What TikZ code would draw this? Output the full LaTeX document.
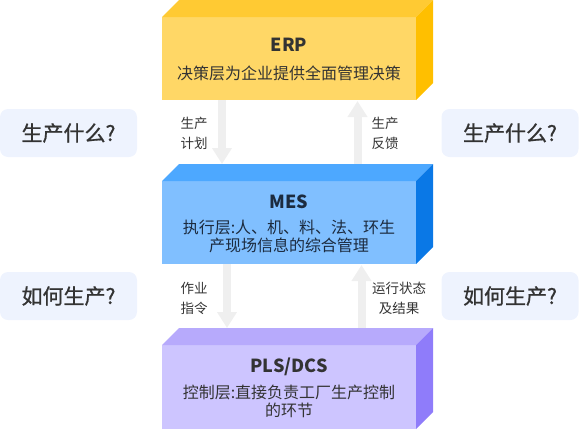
\documentclass[tikz,border=0pt]{standalone}
\usepackage{fontspec}
\setmainfont{Noto Sans CJK SC}
\newfontface\qfont{Noto Sans CJK SC}[FakeBold=0.8]
\usetikzlibrary{arrows.meta,calc}
\definecolor{erpF}{HTML}{FFD766}
\definecolor{erpT}{HTML}{FFCA33}
\definecolor{erpS}{HTML}{FFBF00}
\definecolor{mesF}{HTML}{80BFFF}
\definecolor{mesT}{HTML}{4DA8FF}
\definecolor{mesS}{HTML}{0A78E6}
\definecolor{plsF}{HTML}{CDC5FF}
\definecolor{plsT}{HTML}{B7AAFC}
\definecolor{plsS}{HTML}{8F7CFA}
\definecolor{sideB}{HTML}{EEF3FE}
\definecolor{arrG}{HTML}{EFEFEF}
\definecolor{txtD}{HTML}{333333}
\definecolor{txtM}{HTML}{1C2B3F}
\tikzset{
  front/.style={minimum width=254pt, inner sep=0pt, outer sep=0pt},
  ttl/.style={font=\fontsize{18}{20}\selectfont\bfseries, inner sep=0pt},
  sub/.style={font=\fontsize{16}{18}\selectfont, align=center, inner sep=0pt},
  lbl/.style={font=\fontsize{13.5}{20}\selectfont, align=center, inner sep=0pt, text=txtD},
  qbox/.style={fill=sideB, rounded corners=8pt, minimum width=137pt, minimum height=48pt, inner sep=0pt, font=\qfont\fontsize{21}{23}\selectfont, text=txtD},
  flow/.style={draw=arrG, line width=8pt, -{Triangle[width=19pt,length=16pt]}}
}
\begin{document}
\begin{tikzpicture}[x=1pt,y=-1pt]
\useasboundingbox (0,0) rectangle (579,429);
% layer boxes (front faces)
\node[front, fill=erpF, minimum height=83pt] (erp) at (289,58.5) {};
\node[front, fill=mesF, minimum height=83pt] (mes) at (289,222.5) {};
\node[front, fill=plsF, minimum height=84pt] (pls) at (289,387) {};
% top and side faces
\foreach \n/\t/\s in {erp/erpT/erpS, mes/mesT/mesS, pls/plsT/plsS}{
  \fill[\t] (\n.north west) -- ++(17,-17) -- ($(\n.north east)+(17,-17)$) -- (\n.north east) -- cycle;
  \fill[\s] (\n.north east) -- ++(17,-17) -- ($(\n.south east)+(17,-17)$) -- (\n.south east) -- cycle;
}
% texts in boxes
\node[ttl, text=txtD] (erpt) at (289,45) {ERP};
\node[sub, text=txtD] (erps) at (289,73) {决策层为企业提供全面管理决策};
\node[ttl, text=txtM] (mest) at (289,202) {MES};
\node[sub, text=txtM] (mess) at (289,236) {执行层:人、机、料、法、环生\\产现场信息的综合管理};
\node[ttl, text=txtD] (plst) at (289,367) {PLS/DCS};
\node[sub, text=txtD] (plss) at (289,401) {控制层:直接负责工厂生产控制\\的环节};
% arrows
\coordinate (a1s) at ($(erp.south west)+(60,0)$);
\coordinate (a1e) at ($(mes.north west)+(60,-17)$);
\coordinate (a2s) at ($(mes.north west)+(195.5,-17)$);
\coordinate (a2e) at ($(erp.south west)+(195.5,1)$);
\coordinate (a3s) at ($(mes.south west)+(65,0)$);
\coordinate (a3e) at ($(pls.north west)+(65,-17)$);
\coordinate (a4s) at ($(pls.north west)+(199.5,-17)$);
\coordinate (a4e) at ($(mes.south west)+(199.5,1)$);
\draw[flow] (a1s) -- (a1e);
\draw[flow] (a2s) -- (a2e);
\draw[flow] (a3s) -- (a3e);
\draw[flow] (a4s) -- (a4e);
% arrow labels
\node[lbl] (l1) at (194,133) {生产\\计划};
\node[lbl] (l2) at (385,133) {生产\\反馈};
\node[lbl] (l3) at (194,298.5) {作业\\指令};
\node[lbl] (l4) at (399,298.5) {运行状态\\及结果};
% side question boxes
\node[qbox] (q1) at (68.5,133) {生产什么?};
\node[qbox] (q2) at (510,133) {生产什么?};
\node[qbox] (q3) at (68.5,296) {如何生产?};
\node[qbox] (q4) at (510,296) {如何生产?};
\end{tikzpicture}
\end{document}
